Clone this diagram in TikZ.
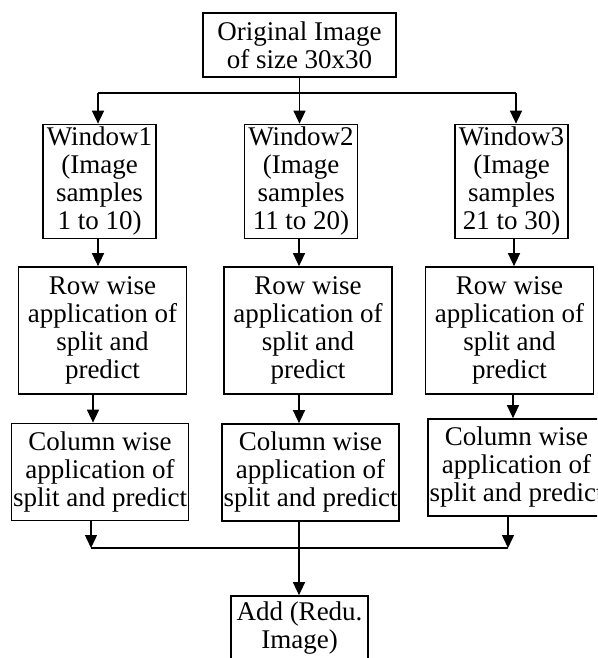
\documentclass[tikz,border=0pt]{standalone}
\usepackage{fontspec}
\setmainfont{Liberation Serif}
\usetikzlibrary{arrows.meta}

\begin{document}
\begin{tikzpicture}[x=1pt,y=-1pt,
    blk/.style={rectangle, draw, line width=1.7pt, align=center, inner sep=0pt, font=\fontsize{27}{28}\selectfont},
    win/.style={blk, minimum width=113pt, minimum height=114pt},
    rowb/.style={blk, minimum width=168pt, minimum height=127pt},
    colb/.style={blk, minimum width=177pt, minimum height=97pt},
    line/.style={line width=1.4pt},
    arrow/.style={line, -{Triangle[length=13pt,width=12pt]}}
]
\useasboundingbox (0,0) rectangle (597,658);
\clip (0,0) rectangle (597,658);

\node[blk, minimum width=193pt, minimum height=64pt] (orig) at (299.5,45) {Original Image\\of size 30x30};

\node[win] (w1) at (99.5,181.5) {Window1\\(Image\\samples\\1 to 10)};
\node[win] (w2) at (301,181.5) {Window2\\(Image\\samples\\11 to 20)};
\node[win] (w3) at (511.5,181.5) {Window3\\(Image\\samples\\21 to 30)};

\node[rowb] (r1) at (102.5,330.5) {Row wise\\application of\\split and\\predict};
\node[rowb] (r2) at (308,330.5) {Row wise\\application of\\split and\\predict};
\node[rowb] (r3) at (509.5,330.5) {Row wise\\application of\\split and\\predict};

\node[colb] (c1) at (100,472) {Column wise\\application of\\split and predict};
\node[colb] (c2) at (310.5,472.5) {Column wise\\application of\\split and predict};
\node[colb] (c3) at (516.5,467.5) {Column wise\\application of\\split and predict};

\node[blk, minimum width=137pt, minimum height=64pt] (add) at (299.5,628) {Add (Redu.\\Image)};

% split into windows
\coordinate (forkL) at (98,93);
\coordinate (forkR) at (516,93);
\draw[line] (forkL) -- (forkR);
\draw[arrow] (forkL) -- (forkL |- w1.north);
\draw[arrow] (orig.south) -- (orig.south |- w2.north);
\draw[arrow] (forkR) -- (forkR |- w3.north);

\draw[arrow] ([xshift=-1.5pt]w1.south) -- ([xshift=-1.5pt]w1.south |- r1.north);
\draw[arrow] ([xshift=-2pt]w2.south) -- ([xshift=-2pt]w2.south |- r2.north);
\draw[arrow] ([xshift=2.5pt]w3.south) -- ([xshift=2.5pt]w3.south |- r3.north);

\draw[arrow] ([xshift=-9.5pt]r1.south) -- ([xshift=-9.5pt]r1.south |- c1.north);
\draw[arrow] ([xshift=-9pt]r2.south) -- ([xshift=-9pt]r2.south |- c2.north);
\draw[arrow] ([xshift=3.5pt]r3.south) -- ([xshift=3.5pt]r3.south |- c3.north);

% merge
\coordinate (joinL) at (91,548);
\coordinate (joinR) at (508,548);
\draw[line] (joinL) -- (joinR);
\draw[arrow] (c1.south -| joinL) -- (joinL);
\draw[arrow] (c3.south -| joinR) -- (joinR);
\draw[arrow] ([xshift=-11.5pt]c2.south) -- ([xshift=-11.5pt]c2.south |- add.north);

\end{tikzpicture}
\end{document}
